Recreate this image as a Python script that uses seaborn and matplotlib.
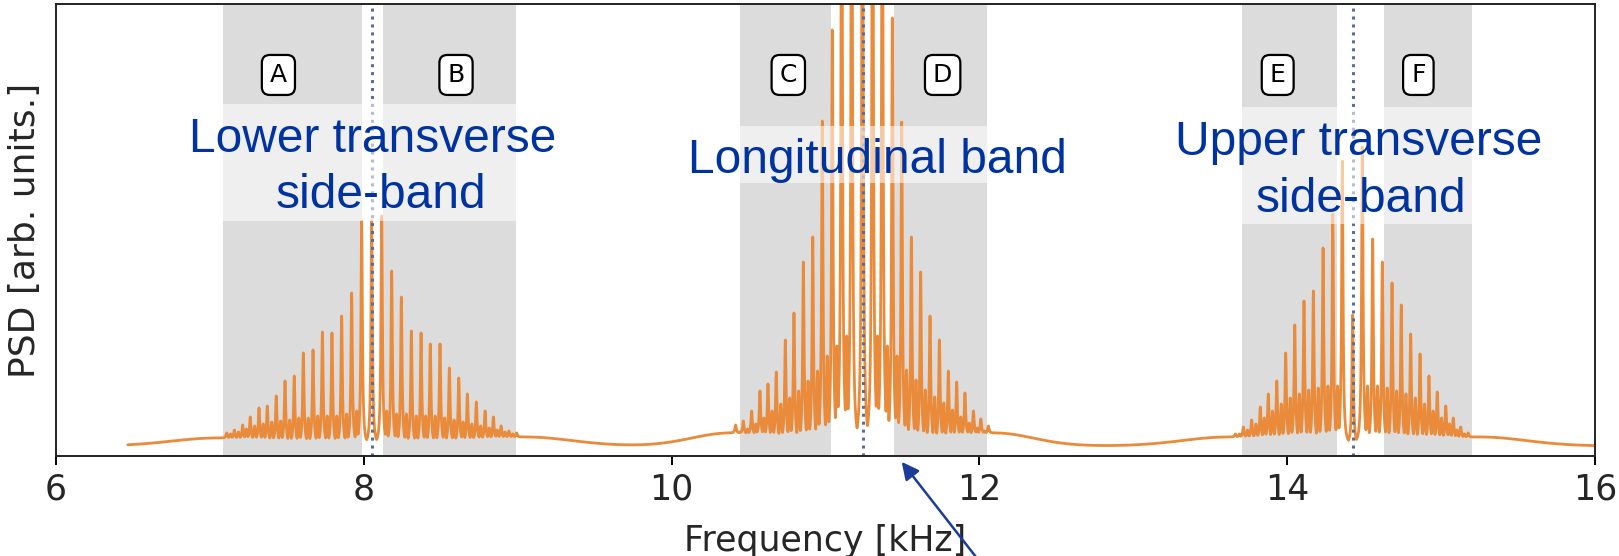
import numpy as np
import pandas as pd
import matplotlib
matplotlib.use("Agg")
import matplotlib.pyplot as plt
import matplotlib.transforms as mtransforms
from matplotlib.patches import Rectangle
import seaborn as sns

# ---------------- data (arb. units) ----------------
BASE = 10.0

# lower transverse side-band: main lines (kHz) and their heights
LOW_F = [7.109, 7.159, 7.213, 7.262, 7.319, 7.373, 7.431, 7.488, 7.548, 7.607,
         7.670, 7.731, 7.793, 7.856, 7.921, 7.986, 8.116, 8.181, 8.244, 8.309,
         8.372, 8.432, 8.495, 8.556, 8.617, 8.673, 8.731, 8.788, 8.842, 8.892,
         8.943, 8.993]
LOW_H = [23, 26, 31, 39, 48, 50, 60, 75, 80, 103, 106, 124, 123, 140, 163, 235,
         240, 185, 159, 125, 123, 112, 112, 88, 78, 62, 54, 45, 39, 30, 25, 23]
# secondary lines between consecutive main lines
LOW_S = [22, 24, 27, 30, 32, 34, 35, 36, 38, 38, 40, 40, 40, 42, 45, 0,
         45, 42, 42, 40, 40, 40, 38, 36, 34, 32, 30, 28, 26, 24, 22]

# longitudinal band
CEN_F = [10.416, 10.466, 10.520, 10.574, 10.626, 10.680, 10.739, 10.795, 10.856,
         10.917, 10.979, 11.044, 11.105, 11.170, 11.306, 11.369, 11.434, 11.495,
         11.558, 11.618, 11.679, 11.740, 11.798, 11.852, 11.906, 11.961, 12.009,
         12.058]
CEN_H = [31, 35, 45, 65, 72, 84, 116, 143, 194, 219, 335, 426, 700, 750, 750,
         700, 438, 334, 219, 184, 140, 116, 85, 74, 63, 45, 37, 30]
CEN_S = [24, 27, 32, 38, 45, 52, 58, 65, 75, 85, 100, 110, 120, 0,
         120, 110, 100, 86, 76, 66, 59, 53, 46, 39, 33, 28, 25]

# upper transverse side-band
UP_F = [13.663, 13.715, 13.769, 13.825, 13.877, 13.932, 13.990, 14.049, 14.109,
        14.170, 14.233, 14.296, 14.358, 14.488, 14.555, 14.618, 14.681, 14.741,
        14.802, 14.863, 14.921, 14.975, 15.030, 15.079, 15.127, 15.176]
UP_H = [22, 29, 36, 49, 62, 75, 103, 131, 155, 165, 208, 242, 295, 309, 217,
        194, 173, 151, 122, 102, 80, 64, 50, 38, 29, 23]
UP_S = [22, 26, 32, 38, 45, 52, 58, 62, 66, 68, 70, 70, 0,
        70, 70, 68, 65, 62, 58, 52, 45, 38, 32, 26, 22]

# lines at the band centres (under the dotted markers)
CENTER_F = [8.051, 11.240, 14.425]
CENTER_H = [235, 760, 141]

# broad pedestal at the band edges
EDGE_F = [7.05, 9.05, 10.38, 12.10, 13.62, 15.25]
EDGE_A = [8, 9, 13, 13, 9, 9]
EDGE_W = [0.30, 0.30, 0.25, 0.25, 0.30, 0.30]

# shaded regions (kHz)
REGION_LEFT = [7.083, 8.122, 10.444, 11.445, 13.704, 14.631]
REGION_RIGHT = [7.986, 8.989, 11.034, 12.047, 14.321, 15.203]
REGION_NAMES = ["A", "B", "C", "D", "E", "F"]
NAME_X = [7.445, 8.599, 10.758, 11.761, 13.938, 14.852]

MARKER_F = [8.051, 11.242, 14.425]

# band labels: one entry per text line (x centre in kHz, baseline in axes fraction)
LABEL_LINES = ["Lower transverse", "side-band", "Longitudinal band",
               "Upper transverse", "side-band"]
LABEL_X = [8.06, 8.11, 11.34, 14.467, 14.48]
LABEL_Y = [0.6726, 0.5487, 0.6254, 0.666, 0.5405]
# translucent backgrounds behind the labels (kHz, axes fraction)
LABEL_BOX_X0 = [6.84, 10.10, 13.27]
LABEL_BOX_X1 = [9.28, 12.58, 15.67]
LABEL_BOX_Y0 = [0.520, 0.604, 0.513]
LABEL_BOX_Y1 = [0.779, 0.730, 0.772]

XTICKS = [6, 8, 10, 12, 14, 16]
F_START, F_END = 6.466, 16.0

# ---------------- build the spectrum from the line lists ----------------
freq = np.arange(F_START, F_END, 0.0005)


def floor_at(f):
    f = np.asarray(f, dtype=float)
    out = np.full_like(f, BASE)
    for c, a, w in zip(EDGE_F, EDGE_A, EDGE_W):
        out = out + a * np.exp(-((f - c) ** 2) / (2 * w * w))
    return out


def lor(f, c, g):
    return g * g / ((f - c) ** 2 + g * g)


floor = floor_at(freq)
lines = np.zeros_like(freq)
for F, H, S in [(LOW_F, LOW_H, LOW_S), (CEN_F, CEN_H, CEN_S), (UP_F, UP_H, UP_S)]:
    F = np.array(F); H = np.array(H, float); S = np.array(S, float)
    amp = np.clip(H - floor_at(F), 0, None)
    for c, a in zip(F, amp):
        lines = np.maximum(lines, a * lor(freq, c, 0.0055))
    mids = (F[:-1] + F[1:]) / 2
    samp = np.clip(S - floor_at(mids), 0, None)
    for c, a in zip(mids, samp):
        lines = np.maximum(lines, a * lor(freq, c, 0.006))
for c, h in zip(CENTER_F, CENTER_H):
    a = max(h - float(floor_at([c])[0]), 0)
    lines = np.maximum(lines, a * lor(freq, c, 0.0055))
psd = floor + lines

df = pd.DataFrame({"Frequency": freq, "PSD": psd})

# ---------------- plotting ----------------
sns.set_style("white")
plt.rcParams["font.family"] = ["DejaVu Sans"]
plt.rcParams["path.simplify"] = False

fig = plt.figure(figsize=(16.19, 5.56), dpi=100)
ax = fig.add_axes([0.0346, 0.1799, 0.9506, 0.8129])

for l, r in zip(REGION_LEFT, REGION_RIGHT):
    ax.axvspan(l, r, color="#dcdcdc", lw=0, zorder=0)

sns.lineplot(data=df, x="Frequency", y="PSD", ax=ax, color="#e98b3a",
             lw=2.0, estimator=None, sort=False, zorder=2)

for m in MARKER_F:
    ax.axvline(m, color="#5a6e9c", lw=2.2, ls=(0, (1, 1.6)), zorder=2.5)

trans = mtransforms.blended_transform_factory(ax.transData, ax.transAxes)
for x0, x1, y0, y1 in zip(LABEL_BOX_X0, LABEL_BOX_X1, LABEL_BOX_Y0, LABEL_BOX_Y1):
    ax.add_patch(Rectangle((x0, y0), x1 - x0, y1 - y0, transform=trans,
                           fc="white", ec="none", alpha=0.55, zorder=3))
for t, x, y in zip(LABEL_LINES, LABEL_X, LABEL_Y):
    ax.text(x, y, t, transform=trans, ha="center", va="baseline",
            fontsize=34.5, color="#0033a0",
            family=["Liberation Sans", "DejaVu Sans"], zorder=3.5)

for n, x in zip(REGION_NAMES, NAME_X):
    ax.text(x, 0.843, n, transform=trans, ha="center", va="center",
            fontsize=18, color="black",
            bbox=dict(boxstyle="round,pad=0.32", fc="white", ec="black",
                      lw=1.6), zorder=4)

ax.annotate("", xy=(11.495, -0.013), xycoords=trans,
            xytext=(12.004, -0.235), textcoords=trans,
            arrowprops=dict(arrowstyle="-|>", color="#1c3c9c", lw=1.8,
                            mutation_scale=26, shrinkA=0, shrinkB=0),
            annotation_clip=False, zorder=5)

ax.set_xlim(6, 16)
ax.set_ylim(0, 452)
ax.set_xticks(XTICKS)
ax.set_xticklabels([str(t) for t in XTICKS])
ax.set_yticks([])
ax.tick_params(axis="x", labelsize=25, length=6.5, width=1.4, direction="out",
               pad=5.5, bottom=True, color="black")
for s in ax.spines.values():
    s.set_linewidth(1.4)
    s.set_color("#222222")
ax.set_xlabel("Frequency [kHz]", fontsize=25, labelpad=12.5)
ax.set_ylabel("PSD [arb. units.]", fontsize=26, labelpad=10)

fig.savefig("out.png", dpi=100)
